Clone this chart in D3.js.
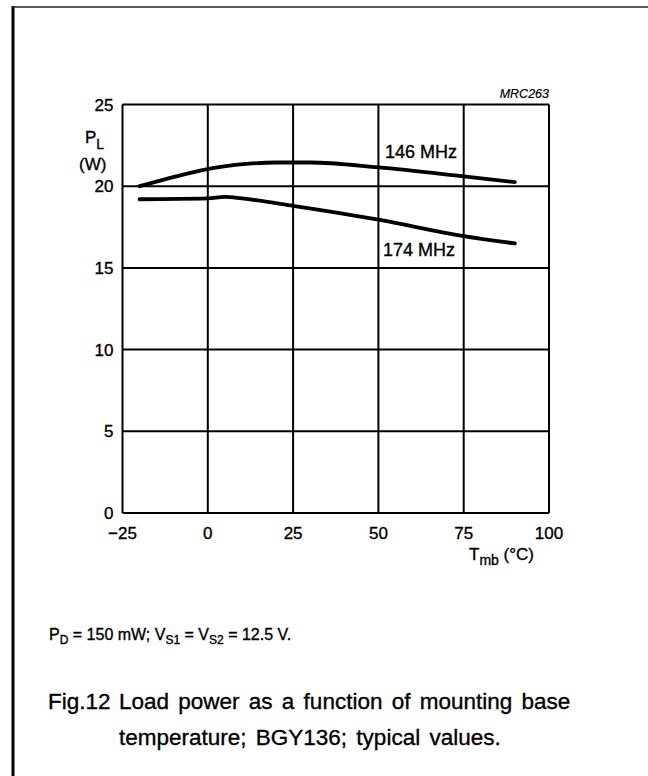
<!DOCTYPE html>
<html>
<head>
<meta charset="utf-8">
<script src="https://cdn.jsdelivr.net/npm/d3@7"></script>
<style>
  body { margin: 0; background: #fff; }
  svg text { font-family: "Liberation Sans", Arial, sans-serif; fill: #000; stroke: #000; stroke-width: 0.35px; }
</style>
</head>
<body>
<svg id="chart" width="648" height="776"></svg>
<script>
// load power vs mounting base temperature
const xTicks = [-25, 0, 25, 50, 75, 100];
const yTicks = [0, 5, 10, 15, 20, 25];

const temp146 = [-20, 8, 20, 30, 50, 75, 90];
const power146 = [20.0, 21.3, 21.45, 21.45, 21.15, 20.6, 20.25];

const temp174 = [-20, 0, 5, 10, 25, 50, 75, 90];
const power174 = [19.2, 19.25, 19.35, 19.25, 18.8, 17.95, 16.95, 16.5];

const seriesLabels = ['146 MHz', '174 MHz'];

const svg = d3.select('#chart');

// frame of the figure
svg.append('line')
    .attr('x1', 13).attr('x2', 13).attr('y1', 6).attr('y2', 776)
    .attr('stroke', '#000').attr('stroke-width', 3);
svg.append('line')
    .attr('x1', 12).attr('x2', 648).attr('y1', 7).attr('y2', 7)
    .attr('stroke', '#222').attr('stroke-width', 1.5);

const x = d3.scaleLinear().domain([-25, 100]).range([122.5, 549]);
const y = d3.scaleLinear().domain([0, 25]).range([513, 104.5]);

const g = svg.append('g');

// grid
g.selectAll('.vgrid').data(xTicks).enter().append('line')
    .attr('x1', d => x(d)).attr('x2', d => x(d))
    .attr('y1', y(0)).attr('y2', y(25))
    .attr('stroke', '#000').attr('stroke-width', 2);
g.selectAll('.hgrid').data(yTicks).enter().append('line')
    .attr('x1', x(-25)).attr('x2', x(100))
    .attr('y1', d => y(d)).attr('y2', d => y(d))
    .attr('stroke', '#000').attr('stroke-width', 2);

// tick labels
g.selectAll('.ylab').data(yTicks).enter().append('text')
    .attr('x', x(-25) - 9).attr('y', d => y(d) + 6)
    .attr('text-anchor', 'end')
    .attr('font-size', 17)
    .text(d => d);
g.selectAll('.xlab').data(xTicks).enter().append('text')
    .attr('x', d => x(d)).attr('y', y(0) + 26)
    .attr('text-anchor', 'middle')
    .attr('font-size', 17)
    .text(d => d < 0 ? '\u2212' + Math.abs(d) : d);

// axis titles
const yt = g.append('text').attr('x', 85).attr('y', 143).attr('font-size', 17);
yt.append('tspan').text('P');
yt.append('tspan').attr('dy', 6).attr('font-size', 14).text('L');
g.append('text').attr('x', 79).attr('y', 170).attr('font-size', 17).text('(W)');

const xt = g.append('text').attr('x', 469).attr('y', 560).attr('font-size', 17);
xt.append('tspan').text('T');
xt.append('tspan').attr('dy', 5).attr('font-size', 14).text('mb');
xt.append('tspan').attr('dy', -5).text(' (°C)');

g.append('text')
    .attr('x', x(100)).attr('y', 98)
    .attr('text-anchor', 'end')
    .attr('font-size', 12.5).attr('font-style', 'italic')
    .style('stroke-width', '0.2px')
    .text('MRC263');

// curves
const line = d3.line()
    .x(d => x(d[0])).y(d => y(d[1]))
    .curve(d3.curveMonotoneX);

const curves = [d3.zip(temp146, power146), d3.zip(temp174, power174)];
g.selectAll('.curve').data(curves).enter().append('path')
    .attr('d', line)
    .attr('fill', 'none')
    .attr('stroke', '#000')
    .attr('stroke-width', 3.8)
    .attr('stroke-linecap', 'round');

g.append('text').attr('x', 385).attr('y', 158).attr('font-size', 18).text(seriesLabels[0]);
g.append('text').attr('x', 383).attr('y', 256).attr('font-size', 18).text(seriesLabels[1]);

// conditions and caption
const note = svg.append('text').attr('x', 49).attr('y', 640).attr('font-size', 16);
note.append('tspan').text('P');
note.append('tspan').attr('dy', 4).attr('font-size', 12).text('D');
note.append('tspan').attr('dy', -4).text(' = 150 mW; V');
note.append('tspan').attr('dy', 4).attr('font-size', 12).text('S1');
note.append('tspan').attr('dy', -4).text(' = V');
note.append('tspan').attr('dy', 4).attr('font-size', 12).text('S2');
note.append('tspan').attr('dy', -4).text(' = 12.5 V.');

svg.append('text').attr('x', 48).attr('y', 709).attr('font-size', 22.5).text('Fig.12');
svg.append('text').attr('x', 119).attr('y', 709).attr('font-size', 22.5)
    .style('word-spacing', '3px')
    .text('Load power as a function of mounting base');
svg.append('text').attr('x', 119).attr('y', 745).attr('font-size', 22.5)
    .style('word-spacing', '3px')
    .text('temperature; BGY136; typical values.');
</script>
</body>
</html>
